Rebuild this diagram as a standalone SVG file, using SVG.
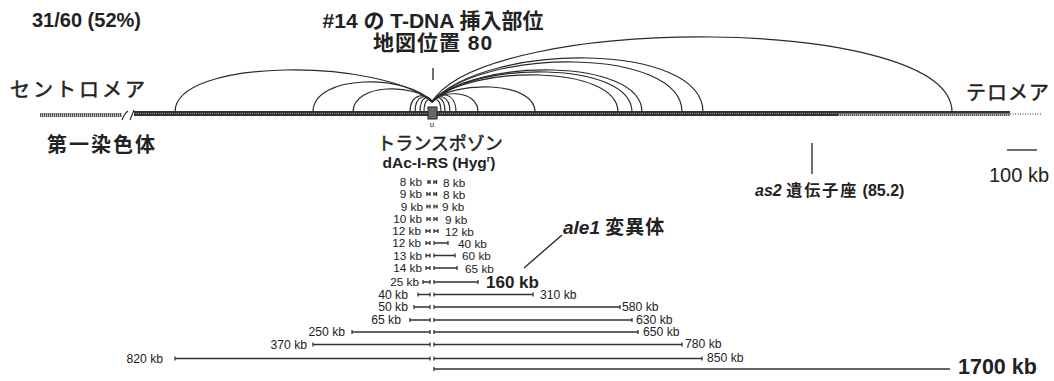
<svg xmlns="http://www.w3.org/2000/svg" width="1054" height="381" viewBox="0 0 1054 381">
<style>
.t{font-family:"Liberation Sans","Noto Sans CJK JP",sans-serif;fill:#222}
.b{font-weight:bold}
.jp{font-family:"Noto Sans CJK JP","Liberation Sans",sans-serif;fill:#222}
.md{stroke:#222;stroke-width:0.5}
.arc{fill:none;stroke:#2a2a2a;stroke-width:1.2}
.bar{fill:none;stroke:#333;stroke-width:1.3}
.s{font-size:11.8px}
.m{font-size:12.2px}
</style>
<defs>
<pattern id="hatch" width="2" height="6" patternUnits="userSpaceOnUse">
<rect width="2" height="6" fill="#bbb"/>
<rect width="1" height="6" fill="#555"/>
</pattern>
</defs>
<rect width="1054" height="381" fill="#fff"/>

<g id="header">
<text class="t b" x="32" y="27" font-size="20">31/60 (52%)</text>
<text class="t b" x="433" y="28" font-size="21" text-anchor="middle">#14 の T-DNA 挿入部位</text>
<text class="t b" x="433" y="50" font-size="21" text-anchor="middle" letter-spacing="1">地図位置 80</text>
</g>

<g id="chromosome">
<rect x="40" y="113" width="82" height="4" fill="url(#hatch)"/>
<path d="M122 120 Q124 114 128 111 M130 120 L134 110" fill="none" stroke="#333" stroke-width="1.2"/>
<rect x="134" y="111" width="876" height="5" fill="#333"/>
<line x1="134" y1="113.5" x2="1010" y2="113.5" stroke="#888" stroke-width="1" stroke-dasharray="1 1"/>
<rect x="838" y="113.5" width="172" height="2.5" fill="url(#hatch)"/>
<line x1="1010" y1="114" x2="1042" y2="114" stroke="#777" stroke-width="1.5" stroke-dasharray="1 1.5"/>
<line x1="433" y1="68" x2="433" y2="80" stroke="#222" stroke-width="1.3"/>
<rect x="428" y="107" width="9" height="12" fill="#666" stroke="#222" stroke-width="1"/>
<text class="t" x="432" y="126.5" font-size="8" text-anchor="middle">u</text>
</g>

<g id="centromere">
<text class="jp md" x="10" y="97" font-size="20" letter-spacing="3">セントロメア</text>
<text class="jp b" x="47" y="152" font-size="20" letter-spacing="2">第一染色体</text>
</g>
<g id="telomere">
<text class="jp md" x="966" y="100" font-size="20" letter-spacing="1">テロメア</text>
</g>
<g id="transposon">
<text class="jp md" x="440" y="150" font-size="18" text-anchor="middle">トランスポゾン</text>
<text class="t b" x="439" y="168" font-size="15.5" text-anchor="middle">dAc-I-RS (Hyg<tspan font-size="9" dy="-6">r</tspan><tspan dy="6">)</tspan></text>
</g>
<g id="as2">
<line x1="812" y1="143" x2="812" y2="174" stroke="#222" stroke-width="1.3"/>
<text class="t b" x="755" y="196" font-size="16"><tspan font-style="italic">as2</tspan> <tspan letter-spacing="2">遺伝子座</tspan> (85.2)</text>
</g>
<g id="scale">
<line x1="1007" y1="150" x2="1037" y2="150" stroke="#222" stroke-width="1.3"/>
<text class="t" x="989" y="182" font-size="20">100 kb</text>
</g>
<g id="ale1">
<text class="t b" x="563" y="234" font-size="19"><tspan font-style="italic">ale1</tspan> <tspan letter-spacing="1">変異体</tspan></text>
</g>

<g id="connectors">
<path class="arc" d="M175 112 C175 57.7 380.6 57.7 432 102"/>
<path class="arc" d="M313 112 C313 73.7 408.2 73.7 432 102"/>
<path class="arc" d="M353 112 C353 83 416.2 83 432 102"/>
<path class="arc" d="M410 112 C410 92.3 427.6 92.3 432 102"/>
<path class="arc" d="M415 112 C415 93.7 428.6 93.7 432 102"/>
<path class="arc" d="M420 112 C420 95 429.6 95 432 102"/>
<path class="arc" d="M424 112 C424 97.7 430.4 97.7 432 102"/>
<path class="arc" d="M441 112 C441 97.7 433.8 97.7 432 102"/>
<path class="arc" d="M445 112 C445 95 434.6 95 432 102"/>
<path class="arc" d="M450 112 C450 93.7 435.6 93.7 432 102"/>
<path class="arc" d="M456 112 C456 91 436.8 91 432 102"/>
<path class="arc" d="M478 112 C478 89.7 441.2 89.7 432 102"/>
<path class="arc" d="M535 112 C535 80.3 452.6 80.3 432 102"/>
<path class="arc" d="M618 112 C618 64.3 469.2 64.3 432 102"/>
<path class="arc" d="M632 112 C632 60.3 472 60.3 432 102"/>
<path class="arc" d="M642 112 C642 57.7 474 57.7 432 102"/>
<path class="arc" d="M682 112 C682 47 481.6 47 432 102"/>
<path class="arc" d="M703 112 C703 41.7 486.2 41.7 432 102"/>
<path class="arc" d="M952 112 C952 13.7 484 13.7 432 102"/>
<line x1="562" y1="235" x2="524" y2="268" stroke="#222" stroke-width="1.3"/>
</g>

<g id="deletions">
<g class="bar">
<path d="M428 180v4M428 182H430v-2v4M434 180v4M434 182H436.5v-2v4"/>
<path d="M427 192v4M427 194H430v-2v4M434 192v4M434 194H436.5v-2v4"/>
<path d="M427 204.5v4M427 206.5H430v-2v4M434 204.5v4M434 206.5H437v-2v4"/>
<path d="M427 217v4M427 219H430v-2v4M434 217v4M434 219H437v-2v4"/>
<path d="M426 229v4M426 231H430v-2v4M434 229v4M434 231H438v-2v4"/>
<path d="M426 241v4M426 243H430v-2v4M434 241v4M434 243H448v-2v4"/>
<path d="M426 253.5v4M426 255.5H430v-2v4M434 253.5v4M434 255.5H455v-2v4"/>
<path d="M426 266v4M426 268H430v-2v4M434 266v4M434 268H457v-2v4"/>
<path d="M423 280v4M423 282H430v-2v4M434 280v4M434 282H478v-2v4"/>
<path d="M418 292.5v4M418 294.5H430v-2v4M434 292.5v4M434 294.5H533v-2v4"/>
<path d="M414 305v4M414 307H430v-2v4M434 305v4M434 307H620v-2v4"/>
<path d="M410 318v4M410 320H430v-2v4M434 318v4M434 320H632v-2v4"/>
<path d="M352 330v4M352 332H430v-2v4M434 330v4M434 332H638v-2v4"/>
<path d="M313 342.5v4M313 344.5H430v-2v4M434 342.5v4M434 344.5H682v-2v4"/>
<path d="M175 356.5v4M175 358.5H430v-2v4M434 356.5v4M434 358.5H702v-2v4"/>
<path d="M434 367v4M434 369H950"/>
</g>
<g class="t s" text-anchor="end">
<text x="422" y="186">8 kb</text>
<text x="422" y="198">9 kb</text>
<text x="423" y="210.5">9 kb</text>
<text x="422" y="223">10 kb</text>
<text x="421" y="235">12 kb</text>
<text x="421" y="247">12 kb</text>
<text x="422" y="259.5">13 kb</text>
<text x="422" y="272">14 kb</text>
<text x="419" y="286">25 kb</text>
</g>
<g class="t m" text-anchor="end">
<text x="408" y="298.5">40 kb</text>
<text x="408" y="311">50 kb</text>
<text x="401" y="324">65 kb</text>
<text x="345" y="336">250 kb</text>
<text x="307" y="348.5">370 kb</text>
<text x="163" y="362.5">820 kb</text>
</g>
<g class="t s">
<text x="443" y="187">8 kb</text>
<text x="443" y="199">8 kb</text>
<text x="442" y="211">9 kb</text>
<text x="445" y="224">9 kb</text>
<text x="445" y="236">12 kb</text>
<text x="458" y="248">40 kb</text>
<text x="462" y="260">60 kb</text>
<text x="465" y="273">65 kb</text>
</g>
<g class="t m">
<text x="540" y="299">310 kb</text>
<text x="622" y="311">580 kb</text>
<text x="636" y="323.5">630 kb</text>
<text x="643" y="336">650 kb</text>
<text x="685" y="348">780 kb</text>
<text x="707" y="362">850 kb</text>
</g>
<text class="t b" x="486" y="288" font-size="17">160 kb</text>
<text class="t b" x="958" y="374" font-size="21.5">1700 kb</text>
</g>
</svg>
